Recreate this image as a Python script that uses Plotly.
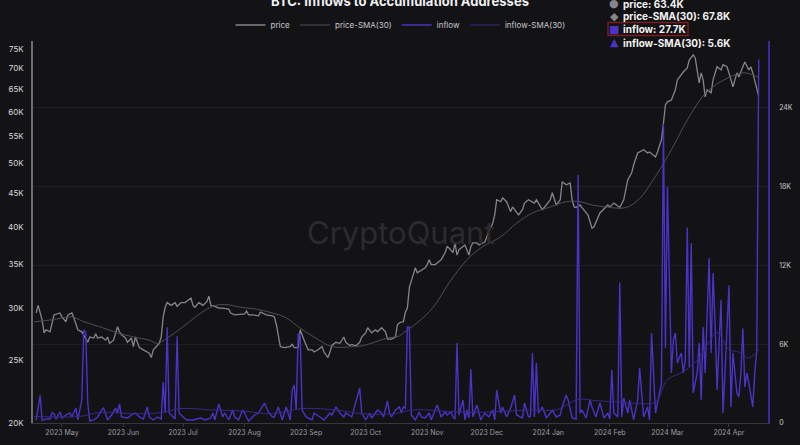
import math
import plotly.graph_objects as go

# ---------------- data (values in thousands) ----------------
price_dates = [
    "2023-04-18", "2023-04-19", "2023-04-21", "2023-04-22", "2023-04-23", "2023-04-25", "2023-04-27", "2023-04-30",
    "2023-05-01", "2023-05-03", "2023-05-04", "2023-05-06", "2023-05-07", "2023-05-09", "2023-05-11", "2023-05-13",
    "2023-05-14", "2023-05-15", "2023-05-17", "2023-05-18", "2023-05-19", "2023-05-21", "2023-05-23", "2023-05-24",
    "2023-05-25", "2023-05-27", "2023-05-29", "2023-05-30", "2023-05-31", "2023-06-02", "2023-06-03", "2023-06-05",
    "2023-06-06", "2023-06-07", "2023-06-08", "2023-06-09", "2023-06-11", "2023-06-13", "2023-06-14", "2023-06-15",
    "2023-06-16", "2023-06-18", "2023-06-19", "2023-06-20", "2023-06-21", "2023-06-22", "2023-06-23", "2023-06-25",
    "2023-06-27", "2023-06-28", "2023-06-30", "2023-07-02", "2023-07-04", "2023-07-05", "2023-07-06", "2023-07-07",
    "2023-07-09", "2023-07-11", "2023-07-13", "2023-07-14", "2023-07-15", "2023-07-17", "2023-07-19", "2023-07-21",
    "2023-07-24", "2023-07-25", "2023-07-27", "2023-07-30", "2023-08-01", "2023-08-02", "2023-08-03", "2023-08-05",
    "2023-08-08", "2023-08-09", "2023-08-10", "2023-08-12", "2023-08-15", "2023-08-16", "2023-08-17", "2023-08-18",
    "2023-08-19", "2023-08-21", "2023-08-24", "2023-08-25", "2023-08-26", "2023-08-28", "2023-08-29", "2023-08-31",
    "2023-09-02", "2023-09-04", "2023-09-05", "2023-09-07", "2023-09-09", "2023-09-10", "2023-09-12", "2023-09-13",
    "2023-09-14", "2023-09-16", "2023-09-18", "2023-09-20", "2023-09-21", "2023-09-23", "2023-09-24", "2023-09-26",
    "2023-09-28", "2023-09-29", "2023-10-01", "2023-10-02", "2023-10-04", "2023-10-06", "2023-10-07", "2023-10-09",
    "2023-10-11", "2023-10-12", "2023-10-14", "2023-10-16", "2023-10-17", "2023-10-18", "2023-10-20", "2023-10-21",
    "2023-10-22", "2023-10-23", "2023-10-25", "2023-10-26", "2023-10-27", "2023-10-29", "2023-10-31", "2023-11-01",
    "2023-11-02", "2023-11-03", "2023-11-05", "2023-11-06", "2023-11-08", "2023-11-10", "2023-11-11", "2023-11-12",
    "2023-11-14", "2023-11-15", "2023-11-16", "2023-11-17", "2023-11-19", "2023-11-20", "2023-11-22", "2023-11-23",
    "2023-11-24", "2023-11-26", "2023-11-27", "2023-11-29", "2023-11-30", "2023-12-02", "2023-12-04", "2023-12-05",
    "2023-12-06", "2023-12-08", "2023-12-09", "2023-12-11", "2023-12-13", "2023-12-14", "2023-12-16", "2023-12-17",
    "2023-12-19", "2023-12-20", "2023-12-22", "2023-12-24", "2023-12-25", "2023-12-26", "2023-12-28", "2023-12-29",
    "2023-12-31", "2024-01-02", "2024-01-03", "2024-01-04", "2024-01-05", "2024-01-07", "2024-01-08", "2024-01-10",
    "2024-01-12", "2024-01-13", "2024-01-14", "2024-01-15", "2024-01-17", "2024-01-18", "2024-01-20", "2024-01-21",
    "2024-01-23", "2024-01-24", "2024-01-27", "2024-01-31", "2024-02-01", "2024-02-03", "2024-02-06", "2024-02-08",
    "2024-02-10", "2024-02-12", "2024-02-13", "2024-02-15", "2024-02-18", "2024-02-20", "2024-02-21", "2024-02-24",
    "2024-02-25", "2024-02-27", "2024-02-28", "2024-02-29", "2024-03-01", "2024-03-03", "2024-03-05", "2024-03-06",
    "2024-03-09", "2024-03-11", "2024-03-12", "2024-03-14", "2024-03-15", "2024-03-16", "2024-03-17", "2024-03-18",
    "2024-03-19", "2024-03-20", "2024-03-21", "2024-03-23", "2024-03-24", "2024-03-26", "2024-03-28", "2024-03-29",
    "2024-03-31", "2024-04-01", "2024-04-03", "2024-04-05", "2024-04-06", "2024-04-08", "2024-04-09", "2024-04-11",
    "2024-04-12", "2024-04-13", "2024-04-15", "2024-04-16",
]
price_vals = [
    29.5, 30.3, 28.8, 27.5, 27.8, 27.6, 29.3, 29.5,
    29.1, 28.6, 29.3, 29.5, 29.0, 27.8, 27.6, 27.0,
    26.6, 27.1, 27.0, 27.4, 27.0, 27.1, 26.8, 27.1,
    26.5, 26.8, 28.1, 27.6, 27.3, 27.0, 26.6, 27.0,
    26.2, 27.1, 26.5, 26.1, 25.9, 25.7, 25.6, 25.2,
    25.9, 26.3, 26.5, 27.1, 29.1, 30.1, 30.6, 30.3,
    30.6, 30.2, 30.6, 30.6, 30.9, 31.1, 30.3, 30.1,
    30.6, 30.3, 30.7, 31.3, 30.3, 30.2, 30.0, 30.0,
    29.9, 29.5, 29.3, 29.4, 29.4, 29.7, 29.3, 29.3,
    29.2, 29.6, 29.5, 29.3, 29.2, 29.1, 28.3, 27.0,
    26.2, 26.1, 26.2, 26.4, 26.1, 26.1, 27.8, 26.8,
    25.9, 25.9, 25.7, 25.9, 26.2, 25.7, 25.2, 25.7,
    26.3, 26.6, 26.5, 27.1, 26.6, 26.3, 26.4, 26.25,
    26.6, 27.1, 27.5, 28.0, 27.5, 27.8, 27.6, 28.0,
    27.6, 26.9, 26.9, 27.1, 28.3, 28.5, 28.6, 29.6,
    30.0, 32.3, 34.0, 34.6, 34.0, 34.3, 34.6, 35.0,
    35.6, 35.0, 35.0, 35.2, 35.6, 36.5, 37.3, 37.1,
    36.5, 37.8, 36.2, 36.9, 37.3, 37.5, 36.2, 37.3,
    37.8, 37.8, 37.5, 37.8, 37.9, 39.3, 40.5, 41.7,
    44.0, 43.7, 44.3, 43.7, 42.2, 42.9, 42.0, 41.7,
    42.5, 43.5, 44.0, 43.7, 43.5, 44.0, 42.9, 42.5,
    43.2, 44.0, 45.1, 44.0, 43.2, 44.0, 46.9, 46.4,
    46.7, 44.0, 42.9, 42.8, 43.2, 42.8, 42.0, 41.7,
    39.8, 40.0, 42.0, 43.2, 42.9, 43.5, 42.8, 44.0,
    47.2, 48.4, 49.8, 51.9, 52.5, 51.9, 52.1, 51.2,
    52.1, 54.4, 57.7, 61.5, 62.2, 62.6, 64.9, 67.2,
    69.1, 70.1, 72.1, 73.4, 72.6, 69.6, 66.5, 68.9,
    67.2, 63.3, 64.9, 64.2, 67.2, 70.4, 69.6, 70.9,
    70.4, 68.9, 65.6, 68.9, 67.9, 70.4, 71.6, 69.6,
    70.4, 68.9, 65.6, 63.4,
]

price_sma_dates = [
    "2023-04-17", "2023-04-26", "2023-05-06", "2023-05-12", "2023-05-20", "2023-05-29", "2023-06-06", "2023-06-14",
    "2023-06-18", "2023-06-23", "2023-07-01", "2023-07-10", "2023-07-16", "2023-07-22", "2023-07-30", "2023-08-07",
    "2023-08-15", "2023-08-22", "2023-08-28", "2023-09-05", "2023-09-14", "2023-09-25", "2023-09-30", "2023-10-12",
    "2023-10-18", "2023-10-20", "2023-10-27", "2023-11-04", "2023-11-12", "2023-11-21", "2023-11-29", "2023-12-08",
    "2023-12-16", "2023-12-24", "2024-01-02", "2024-01-10", "2024-01-17", "2024-01-23", "2024-01-30", "2024-02-09",
    "2024-02-16", "2024-02-24", "2024-03-03", "2024-03-12", "2024-03-21", "2024-04-01", "2024-04-08", "2024-04-11",
    "2024-04-16",
]
price_sma_vals = [
    28.6, 28.8, 29.1, 28.6, 28.1, 27.5, 27.1, 26.8,
    26.5, 27.0, 28.1, 29.5, 30.2, 30.4, 30.1, 29.9,
    29.5, 29.0, 28.1, 27.1, 26.2, 26.2, 26.3, 27.0,
    27.2, 27.5, 28.5, 30.1, 32.8, 35.6, 37.3, 38.6,
    40.5, 42.0, 42.9, 43.7, 43.7, 43.2, 42.9, 42.8,
    44.2, 47.8, 52.5, 59.0, 64.5, 67.8, 68.9, 68.7,
    67.8,
]

inflow_dates = [
    "2023-04-18", "2023-04-20", "2023-04-21", "2023-04-23", "2023-04-25", "2023-04-26", "2023-04-27", "2023-04-28",
    "2023-04-30", "2023-05-01", "2023-05-03", "2023-05-05", "2023-05-06", "2023-05-08", "2023-05-09", "2023-05-11",
    "2023-05-12", "2023-05-13", "2023-05-14", "2023-05-15", "2023-05-17", "2023-05-19", "2023-05-21", "2023-05-22",
    "2023-05-24", "2023-05-26", "2023-05-28", "2023-05-29", "2023-05-30", "2023-05-31", "2023-06-03", "2023-06-05",
    "2023-06-07", "2023-06-09", "2023-06-11", "2023-06-13", "2023-06-14", "2023-06-16", "2023-06-18", "2023-06-20",
    "2023-06-21", "2023-06-22", "2023-06-23", "2023-06-24", "2023-06-26", "2023-06-27", "2023-06-28", "2023-06-29",
    "2023-07-01", "2023-07-03", "2023-07-06", "2023-07-10", "2023-07-12", "2023-07-15", "2023-07-16", "2023-07-17",
    "2023-07-19", "2023-07-21", "2023-07-22", "2023-07-24", "2023-07-26", "2023-07-27", "2023-07-29", "2023-07-31",
    "2023-08-01", "2023-08-03", "2023-08-05", "2023-08-06", "2023-08-08", "2023-08-10", "2023-08-11", "2023-08-13",
    "2023-08-15", "2023-08-16", "2023-08-18", "2023-08-20", "2023-08-21", "2023-08-22", "2023-08-24", "2023-08-25",
    "2023-08-26", "2023-08-27", "2023-08-28", "2023-08-29", "2023-08-30", "2023-09-01", "2023-09-04", "2023-09-05",
    "2023-09-08", "2023-09-10", "2023-09-13", "2023-09-14", "2023-09-16", "2023-09-18", "2023-09-20", "2023-09-21",
    "2023-09-24", "2023-09-25", "2023-09-28", "2023-09-29", "2023-10-01", "2023-10-03", "2023-10-04", "2023-10-07",
    "2023-10-09", "2023-10-10", "2023-10-12", "2023-10-13", "2023-10-14", "2023-10-16", "2023-10-18", "2023-10-19",
    "2023-10-20", "2023-10-21", "2023-10-22", "2023-10-23", "2023-10-24", "2023-10-26", "2023-10-28", "2023-10-29",
    "2023-10-31", "2023-11-02", "2023-11-03", "2023-11-06", "2023-11-08", "2023-11-10", "2023-11-11", "2023-11-13",
    "2023-11-14", "2023-11-15", "2023-11-16", "2023-11-17", "2023-11-19", "2023-11-20", "2023-11-21", "2023-11-22",
    "2023-11-23", "2023-11-24", "2023-11-26", "2023-11-28", "2023-11-30", "2023-12-02", "2023-12-04", "2023-12-05",
    "2023-12-06", "2023-12-08", "2023-12-09", "2023-12-11", "2023-12-13", "2023-12-15", "2023-12-16", "2023-12-19",
    "2023-12-20", "2023-12-22", "2023-12-23", "2023-12-24", "2023-12-25", "2023-12-26", "2023-12-27", "2023-12-29",
    "2023-12-31", "2024-01-02", "2024-01-03", "2024-01-05", "2024-01-07", "2024-01-08", "2024-01-10", "2024-01-11",
    "2024-01-13", "2024-01-15", "2024-01-16", "2024-01-17", "2024-01-18", "2024-01-20", "2024-01-22", "2024-01-23",
    "2024-01-25", "2024-01-27", "2024-01-29", "2024-01-31", "2024-02-01", "2024-02-02", "2024-02-03", "2024-02-05",
    "2024-02-06", "2024-02-07", "2024-02-08", "2024-02-10", "2024-02-11", "2024-02-13", "2024-02-15", "2024-02-16",
    "2024-02-18", "2024-02-20", "2024-02-21", "2024-02-22", "2024-02-24", "2024-02-25", "2024-02-27", "2024-02-28",
    "2024-02-29", "2024-03-01", "2024-03-03", "2024-03-04", "2024-03-05", "2024-03-06", "2024-03-08", "2024-03-09",
    "2024-03-10", "2024-03-11", "2024-03-12", "2024-03-13", "2024-03-14", "2024-03-16", "2024-03-17", "2024-03-18",
    "2024-03-19", "2024-03-20", "2024-03-22", "2024-03-23", "2024-03-24", "2024-03-25", "2024-03-26", "2024-03-28",
    "2024-03-29", "2024-03-30", "2024-04-01", "2024-04-02", "2024-04-03", "2024-04-05", "2024-04-06", "2024-04-07",
    "2024-04-08", "2024-04-09", "2024-04-10", "2024-04-11", "2024-04-13", "2024-04-14", "2024-04-15", "2024-04-16",
]
inflow_vals = [
    0.2, 2.1, 0.2, 0.3, 0.3, 0.8, 0.7, 0.3,
    0.84, 0.38, 0.61, 0.76, 0.46, 1.14, 0.23, 1.75,
    7.1, 6.9, 1.5, 0.15, 0.23, 0.46, 0.99, 1.14,
    0.23, 0.61, 1.14, 0.76, 1.45, 0.46, 0.38, 0.61,
    0.76, 0.46, 0.3, 1.22, 0.46, 0.23, 0.46, 0.3,
    3.12, 0.76, 7.3, 0.76, 0.46, 0.3, 6.6, 0.76,
    0.46, 0.23, 0.23, 0.38, 0.23, 0.38, 0.76, 0.23,
    1.45, 0.46, 0.76, 0.23, 0.99, 0.46, 0.23, 0.99,
    0.76, 0.15, 0.46, 0.61, 0.76, 1.22, 1.52, 0.84,
    0.46, 0.46, 1.22, 0.23, 0.76, 1.22, 0.23, 2.51,
    2.9, 0.99, 6.8, 6.6, 0.99, 0.46, 0.23, 0.76,
    0.46, 0.23, 0.76, 0.61, 1.22, 0.76, 0.46, 0.76,
    0.46, 0.99, 2.67, 0.76, 0.23, 0.76, 0.38, 0.99,
    0.76, 0.46, 1.68, 0.76, 0.46, 0.99, 1.22, 0.76,
    1.22, 1.14, 7.3, 7.3, 0.61, 0.23, 0.84, 0.46,
    0.38, 0.76, 0.23, 1.37, 0.46, 0.84, 0.61, 0.84,
    0.46, 0.3, 6.1, 0.61, 1.75, 0.23, 0.99, 0.4,
    4.11, 0.46, 1.37, 0.23, 0.76, 0.46, 0.99, 0.23,
    2.51, 0.76, 1.22, 0.46, 1.14, 2.13, 0.61, 0.38,
    1.52, 0.46, 0.5, 5.33, 0.46, 4.57, 0.76, 1.22,
    0.38, 0.76, 0.99, 0.46, 0.61, 1.22, 2.13, 1.75,
    0.38, 0.3, 18.9, 0.76, 0.99, 0.38, 1.75, 1.22,
    0.46, 1.52, 0.38, 0.76, 0.3, 4.04, 0.76, 0.46,
    10.7, 0.46, 1.9, 0.76, 1.75, 0.23, 1.75, 4.19,
    0.46, 1.22, 0.23, 6.86, 0.76, 1.52, 3.05, 22.8,
    5.7, 18.0, 3.81, 6.32, 6.86, 4.57, 5.33, 3.81,
    4.8, 14.9, 4.27, 13.7, 2.29, 3.81, 6.1, 1.75,
    7.32, 3.81, 12.57, 5.33, 11.43, 7.62, 2.51, 9.37,
    0.76, 3.81, 10.5, 1.22, 5.33, 2.29, 1.98, 3.81,
    7.2, 2.74, 3.81, 3.05, 1.22, 3.81, 5.56, 27.7,
]

inflow_sma_dates = [
    "2023-04-17", "2023-05-10", "2023-05-20", "2023-06-10", "2023-06-20", "2023-06-30", "2023-07-15", "2023-08-01",
    "2023-08-15", "2023-08-30", "2023-09-15", "2023-09-30", "2023-10-15", "2023-10-25", "2023-11-10", "2023-11-25",
    "2023-12-10", "2023-12-25", "2024-01-05", "2024-01-16", "2024-01-25", "2024-02-05", "2024-02-15", "2024-02-24",
    "2024-03-01", "2024-03-09", "2024-03-16", "2024-03-22", "2024-03-26", "2024-04-01", "2024-04-06", "2024-04-11",
    "2024-04-16",
]
inflow_sma_vals = [
    0.5, 0.5, 0.8, 0.7, 0.8, 1.1, 1.0, 0.9,
    0.7, 1.1, 1.0, 0.7, 0.7, 1.0, 0.9, 0.8,
    0.9, 1.0, 1.0, 1.8, 1.7, 1.6, 1.5, 1.6,
    3.3, 3.9, 4.8, 6.2, 6.9, 5.6, 5.4, 4.95,
    5.6,
]

price_ticks = [20, 25, 30, 35, 40, 45, 50, 55, 60, 65, 70, 75]
price_tick_text = ["20K", "25K", "30K", "35K", "40K", "45K", "50K", "55K", "60K", "65K", "70K", "75K"]
inflow_ticks = [0, 6, 12, 18, 24]
inflow_tick_text = ["0", "6K", "12K", "18K", "24K"]

# ---------------- styling ----------------
BG = "#131316"
C_PRICE = "#85858b"
C_PRICE_SMA = "#4e4e54"
C_INFLOW = "#4a33c6"
C_INFLOW_SMA = "#372985"
FONT = "Inter, Roboto, sans-serif"

W, H = 800, 445
ML, MR, MT, MB = 33, 32, 41, 22
PW, PH = W - ML - MR, H - MT - MB


def px(xp):
    return (xp - ML) / PW


def py(yp):
    return (H - MB - yp) / PH


fig = go.Figure()
fig.add_trace(go.Scatter(x=price_dates, y=price_vals, name="price", mode="lines",
                         line=dict(color=C_PRICE, width=1.3), yaxis="y"))
fig.add_trace(go.Scatter(x=price_sma_dates, y=price_sma_vals, name="price-SMA(30)", mode="lines",
                         line=dict(color=C_PRICE_SMA, width=1, shape="spline"), yaxis="y"))
fig.add_trace(go.Scatter(x=inflow_dates, y=inflow_vals, name="inflow", mode="lines",
                         line=dict(color=C_INFLOW, width=1.4), yaxis="y2"))
fig.add_trace(go.Scatter(x=inflow_sma_dates, y=inflow_sma_vals, name="inflow-SMA(30)", mode="lines",
                         line=dict(color=C_INFLOW_SMA, width=1, shape="spline"), yaxis="y2"))

annotations = [
    dict(text="CryptoQuant", x=0.5, y=py(232), xref="paper", yref="paper", showarrow=False,
         font=dict(family=FONT, size=31, color="#2b2b30"), xanchor="center", yanchor="middle"),
    dict(text="<b>CryptoQuant</b>", x=px(690), y=py(452), xref="paper", yref="paper", showarrow=False,
         font=dict(family=FONT, size=17, color="#f2f2f2"), xanchor="left", yanchor="middle"),
]

tooltip = [
    ("●", C_PRICE, f"price: {price_vals[-1]:.1f}K", 4),
    ("◆", C_PRICE, f"price-SMA(30): {price_sma_vals[-1]:.1f}K", 16),
    ("■", C_INFLOW, f"inflow: {inflow_vals[-1]:.1f}K", 29),
    ("▲", C_INFLOW, f"inflow-SMA(30): {inflow_sma_vals[-1]:.1f}K", 43),
]
for sym, col, txt, yp in tooltip:
    annotations.append(dict(text=sym, x=px(614), y=py(yp), xref="paper", yref="paper", showarrow=False,
                            font=dict(family="DejaVu Sans", size=11, color=col), xanchor="center", yanchor="middle"))
    annotations.append(dict(text=f"<b>{txt}</b>", x=px(621), y=py(yp), xref="paper", yref="paper", showarrow=False,
                            font=dict(family=FONT, size=10, color="#f2f2f2"), xanchor="left", yanchor="middle"))

shapes = [
    dict(type="rect", xref="paper", yref="paper", x0=px(608), x1=px(688), y0=py(35.5), y1=py(22.5),
         line=dict(color="#7e1d1d", width=1.4), fillcolor="rgba(0,0,0,0)"),
]

fig.update_layout(
    width=W, height=H,
    margin=dict(l=ML, r=MR, t=MT, b=MB, pad=0, autoexpand=False),
    paper_bgcolor=BG, plot_bgcolor=BG,
    font=dict(family=FONT, color="#cfcfd4"),
    title=dict(text="<b>BTC: Inflows to Accumulation Addresses</b>", x=0.5, xanchor="center",
               yref="container", y=1 - 1.5 / H, yanchor="middle",
               font=dict(family=FONT, size=13, color="#f0f0f0")),
    showlegend=True,
    legend=dict(orientation="h", x=0.5, xanchor="center", y=py(25), yanchor="middle",
                font=dict(family=FONT, size=8, color="#c8c8cc"), bgcolor="rgba(0,0,0,0)",
                itemwidth=30, tracegroupgap=0),
    xaxis=dict(type="date", range=["2023-04-16 10:00", "2024-04-20 16:00"], dtick="M1",
               tick0="2023-05-01", tickformat="%Y %b", showgrid=False, zeroline=False,
               showline=True, linecolor="#36363b", linewidth=1, ticks="outside", ticklen=3,
               tickcolor="#36363b", tickfont=dict(family=FONT, size=7, color="#9c9ca2"),
               automargin=False),
    yaxis=dict(type="log", range=[math.log10(20), math.log10(77.1)], tickvals=price_ticks,
               ticktext=price_tick_text, showgrid=False, zeroline=False, showline=True,
               linecolor="#6c6c73", linewidth=1.5, ticks="", ticklabelstandoff=6,
               tickfont=dict(family=FONT, size=8, color="#d8d8dc"), automargin=False),
    yaxis2=dict(overlaying="y", side="right", range=[0, 29.1], tickvals=inflow_ticks,
                ticktext=inflow_tick_text, showgrid=True, gridcolor="#1f1f23", gridwidth=1,
                zeroline=False, showline=True, linecolor="#3b29a6", linewidth=1.5, ticks="",
                ticklabelstandoff=8, tickfont=dict(family=FONT, size=7, color="#c8c8cc"),
                automargin=False),
    annotations=annotations,
    shapes=shapes,
)

fig.write_html(
    "out.html",
    config={"displayModeBar": False},
    post_script="document.body.style.margin='0px';document.body.style.overflow='hidden';"
                "document.body.style.background='" + BG + "';",
)
